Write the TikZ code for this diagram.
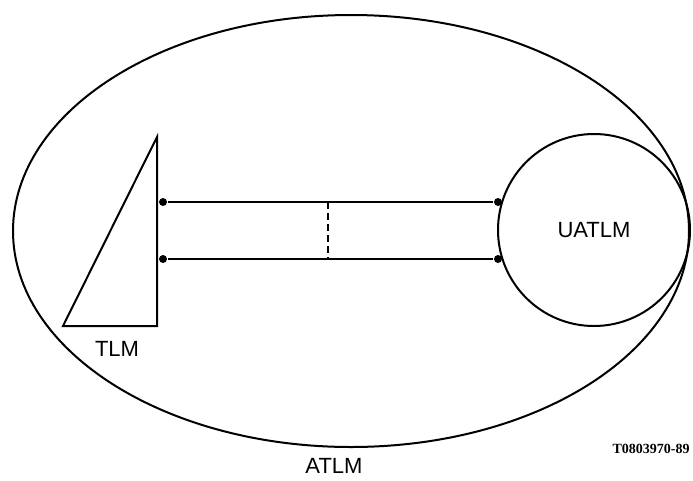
\documentclass[tikz,border=0pt]{standalone}
\usepackage{fontspec}
\setmainfont{Liberation Sans}
\newfontfamily\codefont{Liberation Serif}
\usepackage{tikz}
\usetikzlibrary{calc}

\begin{document}
\begin{tikzpicture}[x=1pt,y=-1pt,line width=2pt,
  lbl/.style={font=\fontsize{22}{26}\selectfont},
  dot/.style={circle,fill,inner sep=0pt,minimum size=8pt}]
\useasboundingbox (0,0) rectangle (693,480);
% outer ellipse ATLM
\draw (351,231) ellipse [x radius=338, y radius=216];
\node[lbl] (atlm) at (334,466) {ATLM};
% TLM
\draw (157,137) -- (63,326) -- (157,326) -- cycle;
\node[lbl] (tlm) at (117,349) {TLM};
% UATLM
\node[lbl,circle,draw,minimum size=192pt,inner sep=0pt] (uatlm) at (594,230) {UATLM};
% connections
\node[dot] (tl) at (163,202) {};
\node[dot] (bl) at (163,259) {};
\node[dot] (tr) at (498,202) {};
\node[dot] (br) at (498,259) {};
\draw (tl) -- (tr);
\draw (bl) -- (br);
\coordinate (dt) at (328,202);
\coordinate (db) at (328,259);
\draw[dash pattern=on 7pt off 4pt] (dt) -- (db);
\node[font=\codefont\bfseries\fontsize{14}{16}\selectfont] (code) at (651,449) {T0803970-89};
\end{tikzpicture}
\end{document}
